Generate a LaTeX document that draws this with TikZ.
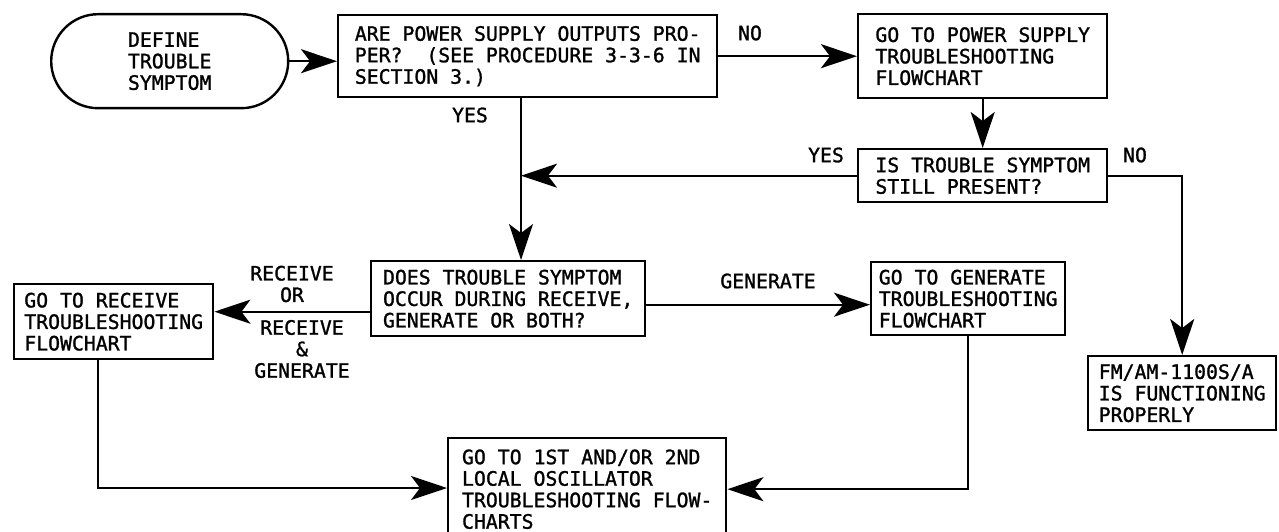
\documentclass[tikz,border=0pt]{standalone}
\usepackage{fontspec}
\usetikzlibrary{arrows.meta}
\newfontfamily\chartfont[FakeBold=1.3]{DejaVu Sans Mono}

\tikzset{
	chartbox/.style={draw, line width=2.4pt, anchor=north west, inner sep=0pt, align=left, font=\chartfont\fontsize{19.8pt}{21.5pt}\selectfont},
	chartlabel/.style={inner sep=0pt, align=center, font=\chartfont\fontsize{19.8pt}{21.5pt}\selectfont},
	flow/.style={line width=2pt, -{Stealth[length=36pt, width=24pt, inset=9pt]}},
}

\begin{document}
\begin{tikzpicture}[x=1pt, y=-1pt]
			%%%%% START %%%%%
			
			\useasboundingbox (0, 0) rectangle (1279, 532);
			
			\node[chartbox, rounded corners=47pt, minimum width=237pt, minimum height=94pt] (define) at (50, 13) {DEFINE\\TROUBLE\\SYMPTOM};
			\node[chartbox, minimum width=379pt, minimum height=82pt] (power) at (337, 14) {ARE POWER SUPPLY OUTPUTS PRO-\\PER?~~(SEE PROCEDURE 3-3-6 IN\\SECTION 3.)};
			\node[chartbox, minimum width=249pt, minimum height=84pt] (psflow) at (857, 13) {GO TO POWER SUPPLY\\TROUBLESHOOTING\\FLOWCHART};
			\node[chartbox, minimum width=249pt, minimum height=53pt] (still) at (857, 148) {IS TROUBLE SYMPTOM\\STILL PRESENT?};
			\node[chartbox, minimum width=188pt, minimum height=74pt] (fmok) at (1087, 355) {FM/AM-1100S/A\\IS FUNCTIONING\\PROPERLY};
			\node[chartbox, minimum width=274pt, minimum height=75pt] (which) at (370, 260) {DOES TROUBLE SYMPTOM\\OCCUR DURING RECEIVE,\\GENERATE OR BOTH?};
			\node[chartbox, minimum width=194pt, minimum height=73pt] (genflow) at (870, 261) {GO TO GENERATE\\TROUBLESHOOTING\\FLOWCHART};
			\node[chartbox, minimum width=199pt, minimum height=75pt] (rcvflow) at (13, 283) {GO TO RECEIVE\\TROUBLESHOOTING\\FLOWCHART};
			\node[chartbox, minimum width=278pt, minimum height=102pt] (lo) at (447, 437) {GO TO 1ST AND/OR 2ND\\LOCAL OSCILLATOR\\TROUBLESHOOTING FLOW-\\CHARTS};
			
			% branch labels
			\node[chartlabel] (noone) at (750, 33) {NO};
			\node[chartlabel] (yesone) at (470, 115) {YES};
			\node[chartlabel] (yestwo) at (826, 155) {YES};
			\node[chartlabel] (notwo) at (1135, 155) {NO};
			\node[chartlabel] (gen) at (768, 281) {GENERATE};
			\node[chartlabel] (rcv) at (292, 284) {RECEIVE\\OR};
			\node[chartlabel] (rcvgen) at (302, 349) {RECEIVE\\\&\\GENERATE};
			
			\coordinate (merge) at (521, 176);
			\coordinate (rcvdrop) at (98, 488);
			
			\draw[flow] (define.east) -- (define.east -| power.west);
			\draw[flow] (power.east) -- (psflow.west);
			\draw[flow] (psflow.south) -- (still.north);
			\draw[flow] (power.south -| merge) -- (which.north -| merge);
			\draw[flow] (still.west) -- (still.west -| merge);
			\draw[flow] (still.east) -| (fmok.north);
			\draw[flow] ([yshift=-6pt]which.east) -- ([yshift=-6pt]which.east -| genflow.west);
			\draw[flow] ([yshift=-13pt]which.west) -- ([yshift=-13pt]which.west -| rcvflow.east);
			\draw[flow] (rcvflow.south -| rcvdrop) -- (rcvdrop) -- (rcvdrop -| lo.west);
			\draw[flow] (genflow.south) |- (lo.east);
			
			%%%%% END %%%%%
\end{tikzpicture}
\end{document}
